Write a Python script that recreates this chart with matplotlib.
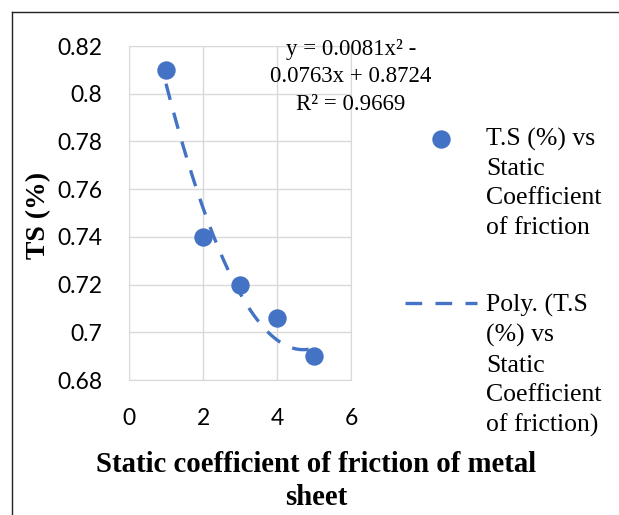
import matplotlib
matplotlib.use('Agg')
import matplotlib.pyplot as plt
import numpy as np
from matplotlib.lines import Line2D

# data
friction = [1, 2, 3, 4, 5]
ts = [0.81, 0.74, 0.72, 0.706, 0.69]
# trendline as printed on the chart: y = 0.0081x^2 - 0.0763x + 0.8724
poly_coef = [0.0081, -0.0763, 0.8724]
x_ticks = [0, 2, 4, 6]
y_ticks = [0.68, 0.70, 0.72, 0.74, 0.76, 0.78, 0.80, 0.82]
y_tick_labels = ['0.68', '0.7', '0.72', '0.74', '0.76', '0.78', '0.8', '0.82']

blue = '#4472C4'
grid = '#d9d9d9'
serif = 'Liberation Serif'

fig = plt.figure(figsize=(6.19, 5.15), dpi=100)
ax = fig.add_axes([129/619, 1 - 380/515, 222/619, 334/515])

ax.scatter(friction, ts, s=150, color=blue, zorder=3,
           label='T.S (%) vs\nStatic\nCoefficient\nof friction')
xs = np.linspace(friction[0], friction[-1], 100)
ax.plot(xs, np.polyval(poly_coef, xs), color=blue, lw=2.4,
        linestyle=(0, (5, 4)), zorder=2,
        label='Poly. (T.S\n(%) vs\nStatic\nCoefficient\nof friction)')

ax.set_xlim(0, 6)
ax.set_ylim(0.68, 0.82)
ax.set_xticks(x_ticks)
ax.set_yticks(y_ticks)
ax.set_yticklabels(y_tick_labels)
ax.grid(True, color=grid, lw=1)
ax.set_axisbelow(True)
for s in ax.spines.values():
    s.set_color(grid)
ax.tick_params(length=0, labelsize=16.5, colors='black')
ax.tick_params(axis='y', pad=19)
ax.tick_params(axis='x', pad=20)
for lab in ax.get_xticklabels() + ax.get_yticklabels():
    lab.set_family('Lato')

# trendline equation, centred on the right edge of the plot
ax.text(1.0, 303/334, 'y = 0.0081x² -\n0.0763x + 0.8724\nR² = 0.9669',
        transform=ax.transAxes, ha='center', va='center', family=serif,
        fontsize=16.5, linespacing=1.4, clip_on=False)

fig.text(39/619, 1 - 215/515, 'TS (%)', rotation=90, ha='center', va='center',
         family=serif, fontweight='bold', fontsize=20)
fig.text(316/619, 1 - 481/515, 'Static coefficient of friction of metal\nsheet',
         ha='center', va='center', family=serif, fontweight='bold', fontsize=20.7,
         linespacing=1.33)

leg = ax.legend(loc='upper left', bbox_to_anchor=(405/619, 1 - 128/515),
                bbox_transform=fig.transFigure, frameon=False,
                prop={'family': serif, 'size': 18.5}, handlelength=2.8,
                handletextpad=0.35, labelspacing=2.15, borderpad=0,
                borderaxespad=0)
for t in leg.get_texts():
    t.set_linespacing(1.42)
# put each handle level with the first line of its label
for col in leg._legend_handle_box.get_children():
    for item in col.get_children():
        item.align = 'top'

# outer chart border (left and top edges visible)
fig.add_artist(Line2D([12/619, 12/619], [0, 1 - 12/515], color='#222222', lw=1))
fig.add_artist(Line2D([12/619, 1], [1 - 12/515, 1 - 12/515], color='#222222', lw=1))

fig.savefig('out.png', dpi=100)
